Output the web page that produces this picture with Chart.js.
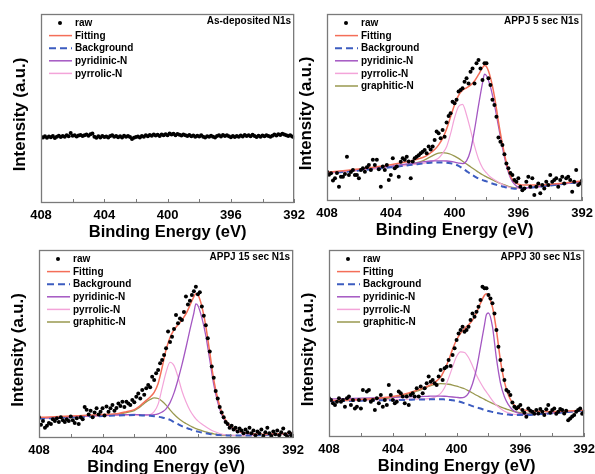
<!DOCTYPE html>
<html>
<head>
<meta charset="utf-8">
<script src="https://cdn.jsdelivr.net/npm/chart.js@4.4.1/dist/chart.umd.min.js"></script>
<style>
  html, body { margin: 0; padding: 0; background: #fff; width: 595px; height: 474px; overflow: hidden; }
  .panel { position: absolute; }
</style>
</head>
<body>
<div class="panel" id="wrap1"><canvas id="c1"></canvas></div>
<div class="panel" id="wrap2"><canvas id="c2"></canvas></div>
<div class="panel" id="wrap3"><canvas id="c3"></canvas></div>
<div class="panel" id="wrap4"><canvas id="c4"></canvas></div>
<script>
// binding energy of the raw scan (eV)
const rawEnergy = [408, 407.875, 407.75, 407.625, 407.5, 407.375, 407.25, 407.125, 407, 406.875, 406.75, 406.625, 406.5, 406.375, 406.25, 406.125, 406, 405.875, 405.75, 405.625, 405.5, 405.375, 405.25, 405.125, 405, 404.875, 404.75, 404.625, 404.5, 404.375, 404.25, 404.125, 404, 403.875, 403.75, 403.625, 403.5, 403.375, 403.25, 403.125, 403, 402.875, 402.75, 402.625, 402.5, 402.375, 402.25, 402.125, 402, 401.875, 401.75, 401.625, 401.5, 401.375, 401.25, 401.125, 401, 400.875, 400.75, 400.625, 400.5, 400.375, 400.25, 400.125, 400, 399.875, 399.75, 399.625, 399.5, 399.375, 399.25, 399.125, 399, 398.875, 398.75, 398.625, 398.5, 398.375, 398.25, 398.125, 398, 397.875, 397.75, 397.625, 397.5, 397.375, 397.25, 397.125, 397, 396.875, 396.75, 396.625, 396.5, 396.375, 396.25, 396.125, 396, 395.875, 395.75, 395.625, 395.5, 395.375, 395.25, 395.125, 395, 394.875, 394.75, 394.625, 394.5, 394.375, 394.25, 394.125, 394, 393.875, 393.75, 393.625, 393.5, 393.375, 393.25, 393.125, 393, 392.875, 392.75, 392.625, 392.5, 392.375, 392.25, 392.125, 392];

const asDepRaw = [35,34.6,35.3,34.5,35.2,34.8,35.5,34.4,35.1,35.6, 34.9,35.4,35,35.8,35.3,37,35.6,35.9,35.2,35.7, 36,35.4,35.8,36.2,35.6,36.4,36.8,35.1,34.5,35.3, 34.7,35.5,34.9,35.2,34.6,35.4,35.9,35,35.5,34.8, 35.3,34.7,35.6,35,35.4,34.9,33.8,34.5,34.9,35.2, 34.6,35.5,35.1,35.8,35.3,36,35.6,36.2,35.7,36.1, 35.5,36.3,35.9,36.4,35.8,36.8,36.2,36.6,35.9,36.5, 36.1,35.7,36.3,35.8,35.4,36,35.3,35.7,35,35.6, 35.2,35.8,35.1,34.7,35.3,35,35.6,35.1,34.6,35.4, 35.8,35.2,36,35.5,35.9,35.3,34.8,35.4,34.9,35.5, 35.1,35.7,35.2,36,35.4,35.8,35.3,36.1,35.5,34.9, 35.6,35.1,35.7,35.3,35.9,35.4,35,35.6,36.2,35.7, 36.4,36,36.6,36.2,35.8,35.4,35.9,35.2,34.6];

const s5Raw = [15.7,14,14.8,11,12.1,15,7.6,13,13,14.5, 23.7,13.9,15.5,16.6,13.9,13.9,12.1,16.6,17.5,15.7, 18,19.3,16.6,22,19.3,22,17,7.6,18.4,16.6, 19.3,11.2,13.9,22.9,17.5,18.4,13,21,22.9,22, 23.7,21.1,12.1,21.1,22.9,23.7,24.5,25.5,26.4,27.3, 25.5,29.1,27.5,29.1,32.6,37.1,36.2,33.5,38,34.4, 42,45.5,46.9,53.1,52.3,54.1,58.6,59.4,60.3,63.8, 65.6,62.9,69.1,70.9,62.9,73.6,75.4,70.9,64.7,73.6, 73.6,65.6,62,54.1,51.3,45,34,31.7,30,25, 20.1,17.5,15,13.9,11.2,10.3,12.1,7.6,5.8,6.7, 10.3,13,7.6,12.1,3.2,7.6,9.4,4.1,8.5,6.7, 10.3,8.5,13.9,10.3,11.2,12.1,7.6,11.2,13,9.4, 12.1,13,11.2,5,10.3,16.6,8.5,9.4,11];

const s15Raw = [11,7,9,5.5,6.5,8,7.5,10,9,10.5, 8.5,11,9.5,8.5,10,9,11.5,9.5,8,10.5, 7.5,11,10,16.5,15,12.5,14.5,11,13.5,15.8, 12.5,14,15.8,12,16.7,14,15.8,17.6,14.5,16, 18.4,17,19.3,16.5,19.3,18.4,17.5,20.2,19,22, 23.7,21,25.5,23,26.4,28.2,27,32.6,30.9,34.4, 36.2,39.7,41.5,44.1,47.7,56.6,51,53.9,58,65.4, 61,63.5,62.7,67,75.2,71,73,76,78,80.5, 76.5,77.5,70,65,60,53,46,38,32,25, 21,16.5,13.5,11,8.5,7.5,5.5,6.5,4.5,5.5, 3.5,5,4,2.5,4.5,3,5.5,2.5,4,1.5, 3.5,2.5,4.5,1.2,3,5.5,2.5,1,3.5,2, 4,1.5,3,5,2,0.8,3,1.5,2.5];

const s30Raw = [20.7,19.8,18,17.1,18.9,20.7,18.9,19.8,16.2,20.7, 21.6,17.1,19.8,15.3,16.2,19.8,15.3,25.2,19.8,24.3, 25.2,18.9,19.8,14.4,20.7,18,22.5,16.2,19.8,17.1, 27.8,22.5,19.8,18,18.9,24.3,23.4,21.6,18,21.6, 17.1,22.5,23.4,21.6,26.1,21.6,27,23.4,26.1,28.7, 32.3,29.6,30.5,28.7,27.8,32.3,35.8,30.5,36.7,37.6, 41.2,38,43.9,47.4,51.9,55.4,57.2,59,56.3,57.2, 59,62.6,66.1,64.3,67,69.7,73.2,80.4,79.5,79.5, 75.9,74.1,71.5,66.1,57.2,48.3,41.2,35.8,30.5,25.1, 24.2,22.5,18.5,16.2,15.3,16,17.1,14.4,13,10.8, 15.3,14,13.5,12.5,14.4,12.6,15,13.5,11.7,14.8, 17.1,13,14.4,15.3,12.5,13.5,15,14.4,12.6,14, 9,9.9,11,11.7,13.5,14.5,15.3,12.5,13.5];

// energies where the fitted curves are sampled (eV)
const fitEnergy = [408, 407, 406, 405, 404, 403, 402.5, 402, 401.75, 401.5, 401.25, 401, 400.75, 400.5, 400.25, 400, 399.75, 399.5, 399.25, 399, 398.75, 398.5, 398.25, 398.125, 398, 397.75, 397.5, 397.25, 397, 396.75, 396.5, 396.25, 396, 395.5, 395, 394, 393, 392];

const s5Fit = [15.4,16.2,17.1,18.2,19.4,21, 22,23.3, 24.3,25.8,27.5,30, 33.5,38.5,45,51.5, 56.5,59.2,60.5,62, 64.2,67.6,71.3,72.5,71.8, 66,56,42.5,30.5, 20.5,13.5,10.2,9, 8.5,8.5,9,9.8,10.7];
const s5Bg = [14.8,15.5,16.3,17.2,18,19, 19.5,20, 20.3,20.5,20.6,20.6, 20.6,20.5,20.2,19.7, 18.8,17.5,16,14.5, 13.2,12,11.2,10.8,10.5, 9.7,9,8.4,7.8, 7.2,6.8,6.6,6.6, 6.9,7.3,8.3,9.3,10.3];
const s5Pyridinic = [15.2,16,16.8,17.8,18.7,19.8, 20.3,20.9, 21.2,21.4,21.5,21.5, 21.5,21.4,21.2,20.8, 20.3,20,21.5,27, 38,51,63,67.8,67, 61,51.5,40,28.5, 19,12.5,9,7.4, 7,7.4,8.4,9.4,10.4];
const s5Pyrrolic = [14.9,15.6,16.4,17.3,18.1,19.1, 19.6,20.1, 20.5,21,21.8,23, 25.5,29,36,44.5, 50.5,51.7,46,38, 29.5,22.5,17.8,16.2,15, 12.8,11.3,10,8.9, 7.9,7.2,6.8,6.7, 6.9,7.3,8.3,9.3,10.3];
const s5Graphitic = [14.9,15.6,16.4,17.3,18.2,19.4, 20.3,21.5, 22.5,23.7,24.8,25.6, 25.9,25.6,25,24, 22.8,21.3,19.8,18.3, 16.8,15.4,14,13.4,12.9, 11.8,10.8,9.8,9, 8.2,7.5,7.1,6.9, 7,7.4,8.3,9.3,10.3];

const s15Fit = [11,11.3,11.7,12.1,12.5,13.1, 14,15.1, 16.4,18.2,20,21.8, 24.3,29,37.5,47, 53.5,57.5,60.2,62.8, 66,70.5,75.2,76.8,76.2, 70,59.5,45.5,31, 21,13.8,9.5,6.8, 3.8,2.6,2,2.2,2.6];
const s15Bg = [10.3,10.6,11,11.4,11.7,12, 12.1,12.2, 12.1,12,11.9,11.8, 11.6,11.3,10.9,10.4, 9.6,8.5,7.4,6.3, 5.4,4.7,4,3.7,3.4, 2.9,2.5,2.1,1.8, 1.6,1.5,1.4,1.3, 1.3,1.3,1.6,2,2.4];
const s15Pyridinic = [10.6,10.9,11.3,11.7,12,12.3, 12.4,12.5, 12.4,12.3,12.3,12.3, 12.4,12.8,13.8,15.5, 18.8,24,31,39, 48,57.5,66.5,71.3,70.5, 64,54.5,41.5,28.5, 19,12.5,8.5,6, 3.5,2.3,1.8,2.1,2.5];
const s15Pyrrolic = [10.4,10.7,11.1,11.5,11.8,12.1, 12.2,12.3, 12.2,12.2,12.2,12.5, 14,18,26.5,35, 40.3,38.5,32.5,25, 19.3,14.8,11.5,10.2,9.1, 7.4,6,4.7,3.6, 2.8,2.1,1.7,1.5, 1.35,1.3,1.6,2,2.4];
const s15Graphitic = [10.4,10.7,11.1,11.6,12,12.6, 13.5,14.6, 15.8,17.5,19.2,20.5, 21.3,21,19.6,17.5, 15,12.6,10.6,9, 7.7,6.5,5.5,5,4.6, 3.9,3.2,2.7,2.2, 1.9,1.6,1.45,1.35, 1.3,1.3,1.6,2,2.4];

const s30Fit = [19.5,19.7,20,20.7,21.6,23.5, 25,26.5, 27.4,28.5,30,32, 36,41,47,52, 55.5,58,60,62.5, 66.5,71.5,75.8,76.6,75.5, 69.5,57,41,29.5, 22.5,18.3,16,14.9, 14.1,13.8,13.6,13.9,14.3];
const s30Bg = [19.1,19.2,19.4,19.6,19.7,19.9, 20,20, 20.1,20.2,20.2,20.2, 20.1,20,19.6,19.3, 18.7,18,17.3,16.5, 15.8,15.2,14.5,14.2,13.9, 13.4,12.9,12.5,12.2, 12,11.8,11.7,11.7, 11.8,12.1,12.7,13.4,14.1];
const s30Pyridinic = [20.3,20.5,20.8,21,21.2,21.5, 21.6,21.7, 21.8,21.9,21.9,21.9, 21.8,21.6,21.4,21.2, 21,21.3,23.5,28.5, 36.5,48,60,65.5,66.3, 59,42,29,21.5, 17.3,14.6,13.2,12.5, 12.2,12.3,12.9,13.5,14.2];
const s30Pyrrolic = [19.4,19.5,19.7,19.9,20,20.2, 20.3,20.4, 20.5,20.9,21.8,23.3, 26.5,31.5,37.5,43, 45.5,45.2,42.5,38, 33,29,25.5,24,22.5, 19.5,17,15.2,13.8, 12.9,12.3,12,11.8, 11.8,12.1,12.7,13.4,14.1];
const s30Graphitic = [19.2,19.4,19.7,20.2,21,23, 24.5,26, 27,27.8,28.3,28.5, 28.4,28.2,27.8,27.2, 26.5,25.8,24.7,23.5, 22.3,21.2,20.1,19.5,19, 18,17,16.1,15.3, 14.6,13.9,13.4,13, 12.6,12.4,12.8,13.5,14.1];

const energyTicks = [408, 404, 400, 396, 392];
const tickMarks = [408, 406, 404, 402, 400, 398, 396, 394, 392];

const FONT = "'Liberation Sans', Arial, sans-serif";
const FRAME = '#7a7a7a';
const COLORS = {
  'Fitting': '#f46e58',
  'Background': '#3c5cc0',
  'pyridinic-N': '#a457c2',
  'pyrrolic-N': '#f3a4d9',
  'graphitic-N': '#99984f',
};
const WIDTHS = { 'Fitting': 1.5, 'Background': 2, 'pyridinic-N': 1.3, 'pyrrolic-N': 1.2, 'graphitic-N': 1.3 };
const DASHES = { 'Background': [6, 4] };

const pts = (xs, ys) => xs.map((x, i) => ({x, y: ys[i]}));

// frame, inward ticks, y title, panel title and legend
const deco = {
  id: 'deco',
  afterDatasetsDraw(chart, args, opts) {
    const {ctx, chartArea: a, scales: {x}} = chart;
    ctx.save();
    ctx.strokeStyle = FRAME;
    ctx.lineWidth = 1;
    tickMarks.forEach(v => {
      const px = Math.round(x.getPixelForValue(v)) + 0.5;
      ctx.beginPath();
      ctx.moveTo(px, a.bottom);
      ctx.lineTo(px, a.bottom - 4);
      ctx.stroke();
    });
    ctx.lineWidth = 1.3;
    ctx.strokeRect(a.left + 0.5, a.top + 0.5, a.right - a.left - 1, a.bottom - a.top - 1);

    // y axis title sits a little below the middle in the original
    ctx.fillStyle = '#000';
    ctx.save();
    ctx.translate(a.left - 21, (a.top + a.bottom) / 2 + 6);
    ctx.rotate(-Math.PI / 2);
    ctx.font = 'bold 16.8px ' + FONT;
    ctx.textAlign = 'center';
    ctx.textBaseline = 'middle';
    ctx.fillText('Intensity (a.u.)', 0, 0);
    ctx.restore();

    ctx.font = 'bold 10px ' + FONT;
    ctx.textAlign = 'right';
    ctx.textBaseline = 'middle';
    ctx.fillText(opts.title, a.right - 3, a.top + 7);

    ctx.textAlign = 'left';
    chart.data.datasets.forEach((ds, i) => {
      const y = a.top + 9 + i * 12.6;
      if (ds.label === 'raw') {
        ctx.fillStyle = '#000';
        ctx.beginPath();
        ctx.arc(a.left + 19, y, 2, 0, Math.PI * 2);
        ctx.fill();
      } else {
        ctx.strokeStyle = ds.borderColor;
        ctx.lineWidth = ds.label === 'Background' ? 2 : 1.5;
        ctx.setLineDash(ds.label === 'Background' ? [7, 4] : []);
        ctx.beginPath();
        ctx.moveTo(a.left + 8, y);
        ctx.lineTo(a.left + 31, y);
        ctx.stroke();
        ctx.setLineDash([]);
      }
      ctx.fillStyle = '#000';
      ctx.fillText(ds.label, a.left + 34, y + 0.5);
    });
    ctx.restore();
  }
};

function makePanel(id, box, title, raw, curves) {
  const w = box.R - box.L + 54, h = box.B - box.T + 44;
  const wrap = document.getElementById('wrap' + id);
  wrap.style.left = (box.L - 40) + 'px';
  wrap.style.top = (box.T - 4) + 'px';
  const canvas = document.getElementById('c' + id);
  canvas.width = w;
  canvas.height = h;

  const datasets = [{
    label: 'raw', data: pts(rawEnergy, raw), showLine: false,
    pointRadius: 2, pointBorderWidth: 0, pointBackgroundColor: '#000', borderColor: '#000'
  }];
  curves.forEach(([label, ys]) => {
    datasets.push({
      label, data: ys ? pts(fitEnergy, ys) : [],
      borderColor: COLORS[label], borderWidth: WIDTHS[label], borderDash: DASHES[label] || [],
      pointRadius: 0, fill: false, cubicInterpolationMode: 'monotone'
    });
  });

  new Chart(canvas, {
    type: 'line',
    data: { datasets },
    options: {
      responsive: false,
      animation: false,
      devicePixelRatio: 1,
      layout: { padding: { left: 0, top: 4, right: 14, bottom: 0 } },
      plugins: { legend: { display: false }, tooltip: { enabled: false }, deco: { title } },
      scales: {
        x: {
          type: 'linear', reverse: true, min: 392, max: 408,
          grid: { display: false, drawTicks: false },
          border: { display: false },
          afterBuildTicks: axis => { axis.ticks = energyTicks.map(v => ({value: v})); },
          afterFit: axis => { axis.height = 40; },
          ticks: { color: '#000', font: { family: FONT, size: 13, weight: 'bold' }, padding: 5, maxRotation: 0, autoSkip: false },
          title: { display: true, text: 'Binding Energy (eV)', color: '#000', font: { family: FONT, size: 16.5, weight: 'bold' }, padding: { top: 0, bottom: 1 } }
        },
        y: {
          type: 'linear', min: 0, max: 100,
          grid: { display: false, drawTicks: false },
          border: { display: false },
          ticks: { display: false },
          afterFit: axis => { axis.width = 40; },
          title: { display: false }
        }
      }
    },
    plugins: [deco]
  });
}

makePanel(1, {L: 41, T: 14, R: 296, B: 203}, 'As-deposited N1s', asDepRaw,
  [['Fitting'], ['Background'], ['pyridinic-N'], ['pyrrolic-N']]);
makePanel(2, {L: 327, T: 14, R: 584, B: 201}, 'APPJ 5 sec N1s', s5Raw,
  [['Fitting', s5Fit], ['Background', s5Bg], ['pyridinic-N', s5Pyridinic], ['pyrrolic-N', s5Pyrrolic], ['graphitic-N', s5Graphitic]]);
makePanel(3, {L: 39, T: 250, R: 295, B: 438}, 'APPJ 15 sec N1s', s15Raw,
  [['Fitting', s15Fit], ['Background', s15Bg], ['pyridinic-N', s15Pyridinic], ['pyrrolic-N', s15Pyrrolic], ['graphitic-N', s15Graphitic]]);
makePanel(4, {L: 329, T: 250, R: 586, B: 437}, 'APPJ 30 sec N1s', s30Raw,
  [['Fitting', s30Fit], ['Background', s30Bg], ['pyridinic-N', s30Pyridinic], ['pyrrolic-N', s30Pyrrolic], ['graphitic-N', s30Graphitic]]);
</script>
</body>
</html>
